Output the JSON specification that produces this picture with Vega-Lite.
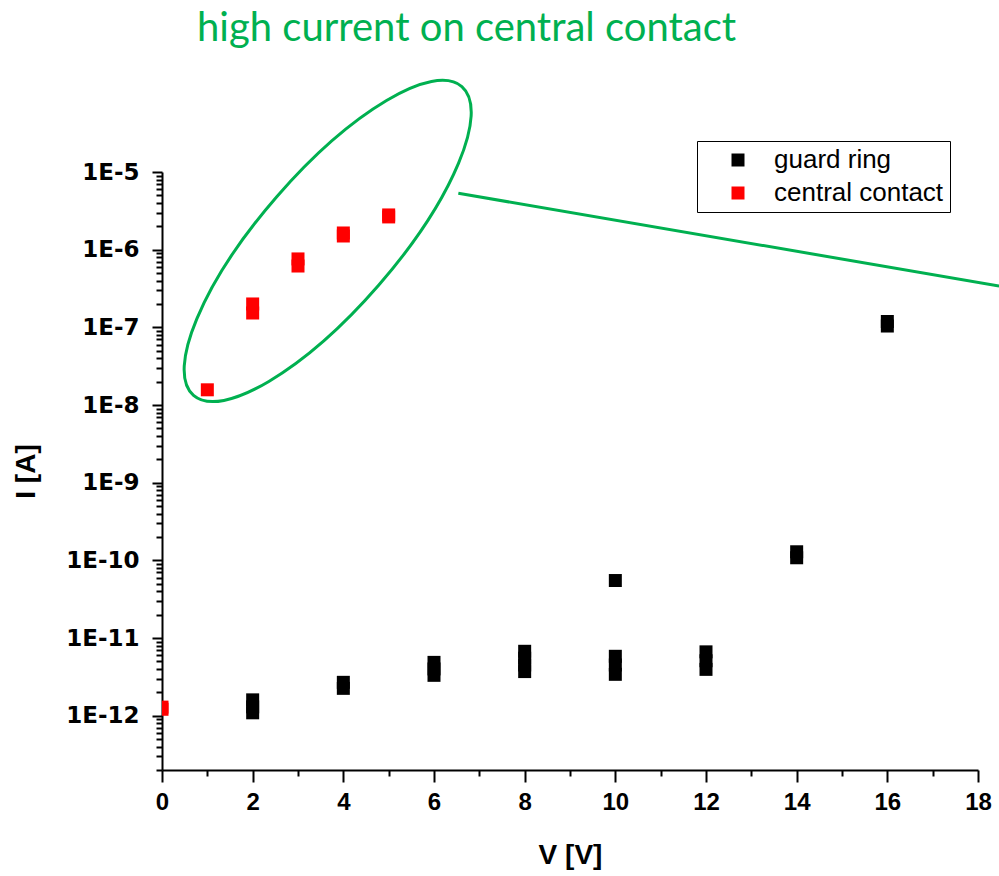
{
  "$schema": "https://vega.github.io/schema/vega-lite/v6.json",
  "width": 816,
  "height": 598,
  "autosize": {"type": "none"},
  "padding": {"left": 162, "top": 172, "right": 21, "bottom": 106},
  "background": "white",
  "title": {
    "text": "high current on central contact",
    "anchor": "start",
    "frame": "group",
    "dx": 35,
    "dy": 8,
    "offset": 1,
    "baseline": "alphabetic",
    "font": "Lato",
    "fontSize": 40,
    "fontWeight": "normal",
    "color": "#00B050"
  },
  "config": {
    "view": {"stroke": null},
    "axis": {
      "domainColor": "black",
      "domainWidth": 2,
      "tickColor": "black",
      "tickWidth": 2,
      "grid": false,
      "labelColor": "black",
      "titleColor": "black"
    }
  },
  "resolve": {"axis": {"x": "independent", "y": "independent"}},
  "layer": [
    {
      "data": {
        "values": [
          {"V": 2, "I": 1.6e-12, "series": "guard ring"},
          {"V": 2, "I": 1.3e-12, "series": "guard ring"},
          {"V": 2, "I": 1.09e-12, "series": "guard ring"},
          {"V": 4, "I": 2.69e-12, "series": "guard ring"},
          {"V": 4, "I": 2.25e-12, "series": "guard ring"},
          {"V": 6, "I": 4.86e-12, "series": "guard ring"},
          {"V": 6, "I": 4.0e-12, "series": "guard ring"},
          {"V": 6, "I": 3.31e-12, "series": "guard ring"},
          {"V": 8, "I": 6.75e-12, "series": "guard ring"},
          {"V": 8, "I": 5.5e-12, "series": "guard ring"},
          {"V": 8, "I": 4.5e-12, "series": "guard ring"},
          {"V": 8, "I": 3.7e-12, "series": "guard ring"},
          {"V": 10, "I": 5.82e-12, "series": "guard ring"},
          {"V": 10, "I": 4.5e-12, "series": "guard ring"},
          {"V": 10, "I": 3.41e-12, "series": "guard ring"},
          {"V": 10, "I": 5.5e-11, "series": "guard ring"},
          {"V": 12, "I": 6.64e-12, "series": "guard ring"},
          {"V": 12, "I": 5.1e-12, "series": "guard ring"},
          {"V": 12, "I": 3.95e-12, "series": "guard ring"},
          {"V": 14, "I": 1.29e-10, "series": "guard ring"},
          {"V": 14, "I": 1.08e-10, "series": "guard ring"},
          {"V": 16, "I": 1.19e-7, "series": "guard ring"},
          {"V": 16, "I": 1.04e-7, "series": "guard ring"},
          {"V": 0, "I": 1.29e-12, "series": "central contact"},
          {"V": 0, "I": 1.21e-12, "series": "central contact"},
          {"V": 1, "I": 1.57e-8, "series": "central contact"},
          {"V": 2, "I": 2.0e-7, "series": "central contact"},
          {"V": 2, "I": 1.53e-7, "series": "central contact"},
          {"V": 3, "I": 7.6e-7, "series": "central contact"},
          {"V": 3, "I": 6.16e-7, "series": "central contact"},
          {"V": 4, "I": 1.64e-6, "series": "central contact"},
          {"V": 4, "I": 1.5e-6, "series": "central contact"},
          {"V": 5, "I": 2.8e-6, "series": "central contact"},
          {"V": 5, "I": 2.64e-6, "series": "central contact"}
        ]
      },
      "mark": {"type": "point", "shape": "square", "filled": true, "size": 169, "opacity": 1, "strokeWidth": 0, "clip": true},
      "encoding": {
        "x": {
          "field": "V",
          "type": "quantitative",
          "scale": {"domain": [0, 18], "nice": false, "zero": false},
          "axis": {
            "orient": "bottom",
            "values": [0, 2, 4, 6, 8, 10, 12, 14, 16, 18],
            "tickSize": 12,
            "labelPadding": 8,
            "labelFont": "Liberation Sans",
            "labelFontWeight": "bold",
            "labelFontSize": 24,
            "labelFlush": false,
            "labelOverlap": false,
            "title": "V [V]",
            "titleFont": "Liberation Sans",
            "titleFontSize": 28,
            "titleFontWeight": "bold",
            "titlePadding": 27
          }
        },
        "y": {
          "field": "I",
          "type": "quantitative",
          "scale": {"type": "log", "domain": [2e-13, 1e-5], "nice": false},
          "axis": {
            "orient": "left",
            "values": [1e-12, 1e-11, 1e-10, 1e-9, 1e-8, 1e-7, 1e-6, 1e-5],
            "labelExpr": "'1E' + round(log(datum.value)/LN10)",
            "tickSize": 10,
            "labelPadding": 13,
            "labelFont": "DejaVu Sans",
            "labelFontWeight": "bold",
            "labelFontSize": 23,
            "labelFlush": false,
            "labelOverlap": false,
            "title": "I [A]",
            "titleFont": "Liberation Sans",
            "titleFontSize": 28,
            "titleFontWeight": "bold",
            "titlePadding": 25
          }
        },
        "color": {
          "field": "series",
          "type": "nominal",
          "scale": {"domain": ["guard ring", "central contact"], "range": ["#000000", "#ff0000"]},
          "legend": {
            "title": null,
            "orient": "none",
            "legendX": 535,
            "legendY": -31,
            "strokeColor": "black",
            "padding": 6,
            "symbolType": "square",
            "symbolSize": 169,
            "symbolOffset": 22,
            "symbolStrokeWidth": 0,
            "symbolOpacity": 1,
            "labelOffset": 23,
            "labelLimit": 400,
            "labelFont": "Liberation Sans",
            "labelFontSize": 26,
            "labelColor": "black",
            "rowPadding": 7
          }
        }
      }
    },
    {
      "data": {"values": [{"V": 3.655, "I": 1.294e-6}]},
      "mark": {
        "type": "point",
        "shape": "M-1,0A1,0.33,0,1,1,1,0A1,0.33,0,1,1,-1,0Z",
        "filled": false,
        "color": "#00B050",
        "strokeWidth": 3,
        "size": 167281,
        "angle": -49,
        "opacity": 1,
        "clip": false
      },
      "encoding": {
        "x": {
          "field": "V",
          "type": "quantitative",
          "axis": {"orient": "bottom", "values": [1, 3, 5, 7, 9, 11, 13, 15, 17], "tickSize": 6, "labels": false, "domain": false, "title": null, "grid": false}
        },
        "y": {
          "field": "I",
          "type": "quantitative",
          "axis": {
            "orient": "left",
            "values": [2e-13, 3e-13, 4e-13, 5e-13, 6e-13, 7e-13, 8e-13, 9e-13,
                       2e-12, 3e-12, 4e-12, 5e-12, 6e-12, 7e-12, 8e-12, 9e-12,
                       2e-11, 3e-11, 4e-11, 5e-11, 6e-11, 7e-11, 8e-11, 9e-11,
                       2e-10, 3e-10, 4e-10, 5e-10, 6e-10, 7e-10, 8e-10, 9e-10,
                       2e-9, 3e-9, 4e-9, 5e-9, 6e-9, 7e-9, 8e-9, 9e-9,
                       2e-8, 3e-8, 4e-8, 5e-8, 6e-8, 7e-8, 8e-8, 9e-8,
                       2e-7, 3e-7, 4e-7, 5e-7, 6e-7, 7e-7, 8e-7, 9e-7,
                       2e-6, 3e-6, 4e-6, 5e-6, 6e-6, 7e-6, 8e-6, 9e-6],
            "tickSize": 6,
            "labels": false,
            "domain": false,
            "title": null,
            "grid": false
          }
        }
      }
    },
    {
      "data": {"values": [{"V": 6.537, "I": 5.32e-6}, {"V": 18.465, "I": 3.41e-7}]},
      "mark": {"type": "line", "color": "#00B050", "strokeWidth": 3, "clip": false},
      "encoding": {
        "x": {"field": "V", "type": "quantitative", "axis": null},
        "y": {"field": "I", "type": "quantitative", "axis": null}
      }
    }
  ]
}
